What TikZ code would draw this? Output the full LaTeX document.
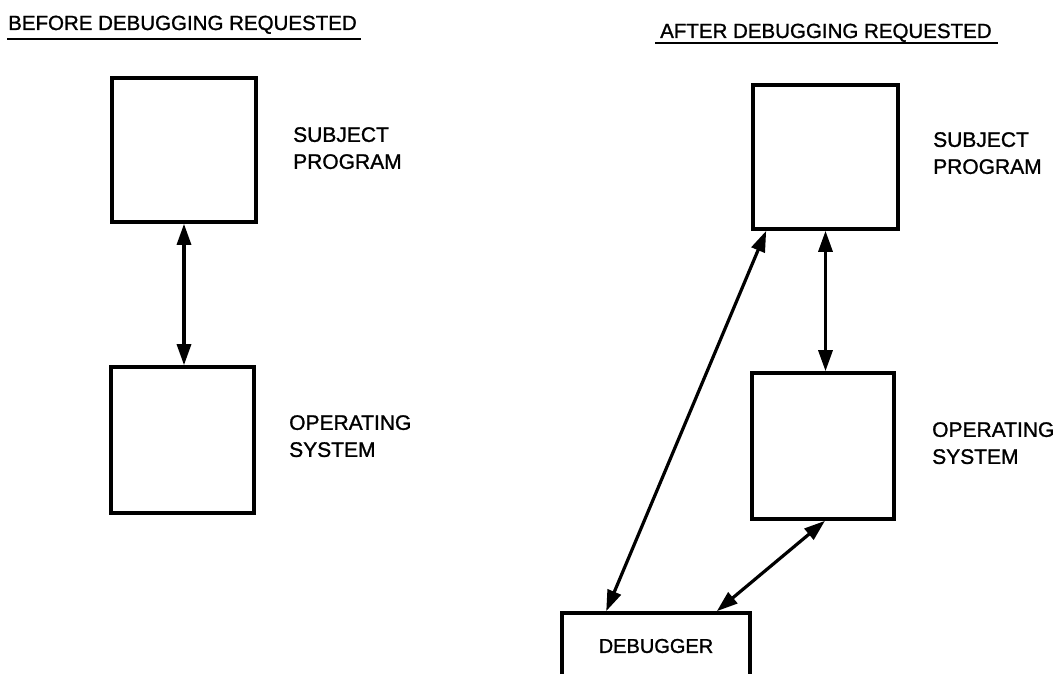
\documentclass[tikz,border=0pt]{standalone}
\usepackage{fontspec}
\setmainfont[FakeBold=1.2]{Liberation Sans}
\usetikzlibrary{arrows.meta,calc}
\tikzset{
  box/.style={draw=black, line width=3.6pt, rectangle, inner sep=0pt},
  lbl/.style={anchor=north west, inner sep=0pt, align=left, font=\fontsize{21}{27}\selectfont},
  ttl/.style={anchor=base west, inner sep=0pt, font=\fontsize{20.5}{24}\selectfont},
  ul/.style={line width=2.8pt},
  conn/.style={line width=3.2pt, {Triangle[length=21pt,width=14pt]}-{Triangle[length=21pt,width=14pt]}}
}
\begin{document}
\begin{tikzpicture}[x=1pt,y=-1pt]
\useasboundingbox (0,0) rectangle (1058,674);
\clip (0,0) rectangle (1058,674);
% titles
\node[ttl] (t1) at (8,30) {BEFORE DEBUGGING REQUESTED};
\node[ttl] (t2) at (660,38) {AFTER DEBUGGING REQUESTED};
\draw[ul] ([shift={(-1,9)}]t1.base west) -- ([shift={(4,9)}]t1.base east);
\draw[ul] ([shift={(-5,5)}]t2.base west) -- ([shift={(6,5)}]t2.base east);
% left side
\node[box, minimum width=144pt, minimum height=144pt] (sp1) at (184,150) {};
\node[box, minimum width=143pt, minimum height=146pt] (os1) at (182.5,440) {};
\node[lbl] (sp1l) at (293,127) {SUBJECT\\PROGRAM};
\node[lbl] (os1l) at (289,415) {OPERATING\\SYSTEM};
\draw[conn] (sp1.south) -- (sp1.south |- os1.north);
% right side
\node[box, minimum width=145pt, minimum height=144pt] (sp2) at (825.5,157) {};
\node[box, minimum width=142pt, minimum height=146pt] (os2) at (823,446) {};
\node[lbl] (sp2l) at (933,132) {SUBJECT\\PROGRAM};
\node[lbl] (os2l) at (932,422) {OPERATING\\SYSTEM};
\node[box, minimum width=188pt, minimum height=66pt, font=\fontsize{20}{24}\selectfont] (dbg) at (656,646) {DEBUGGER};
\draw[conn] (sp2.south) -- (sp2.south |- os2.north);
\draw[conn] ([xshift=15pt]sp2.south west) -- ([xshift=46pt]dbg.north west);
\draw[conn] ([xshift=2pt]os2.south) -- ([xshift=-35pt]dbg.north east);
\end{tikzpicture}
\end{document}
